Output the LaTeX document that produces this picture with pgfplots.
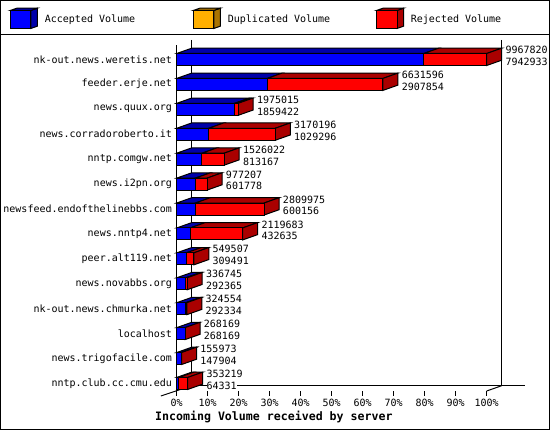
\documentclass[border=0pt]{standalone}
\usepackage{fontspec}
\setmainfont{DejaVu Sans Mono}
\usepackage{pgfplots}
\pgfplotsset{compat=1.18}
\definecolor{accfront}{RGB}{0,0,255}
\definecolor{accdark}{RGB}{0,0,170}
\definecolor{dupfront}{RGB}{255,175,0}
\definecolor{dupdark}{RGB}{170,115,0}
\definecolor{rejfront}{RGB}{255,0,0}
\definecolor{rejdark}{RGB}{170,0,0}

% depth of the 3d bars: 15 px across (in percent), 5.3 px up
\newcommand\dx{4.84}
\newcommand\dy{5.3}
% row index, total volume, accepted volume
\newcommand\volbar[3]{%
  \begingroup
  \pgfkeys{/pgf/fpu=true,/pgf/fpu/output format=fixed}%
  \pgfmathparse{#2/99678.20}\xdef\xt{\pgfmathresult}%
  \pgfmathparse{#3/99678.20}\xdef\xa{\pgfmathresult}%
  \pgfmathparse{\xt+\dx}\xdef\xtb{\pgfmathresult}%
  \pgfmathparse{\xa+\dx}\xdef\xab{\pgfmathresult}%
  \pgfmathparse{325.5-24.92*#1}\xdef\yb{\pgfmathresult}%
  \pgfmathparse{\yb+12}\xdef\yt{\pgfmathresult}%
  \pgfmathparse{\yt+\dy}\xdef\ytb{\pgfmathresult}%
  \pgfmathparse{\yb+\dy}\xdef\ybb{\pgfmathresult}%
  \endgroup
  \ifnum#2=#3\relax\def\sidecol{accdark}\else\def\sidecol{rejdark}\fi
  \addplot[barline,fill=accdark] coordinates {(0,\yt) (\xa,\yt) (\xab,\ytb) (\dx,\ytb)} --cycle;
  \ifnum#2=#3\relax\else
    \addplot[barline,fill=rejdark] coordinates {(\xa,\yt) (\xt,\yt) (\xtb,\ytb) (\xab,\ytb)} --cycle;
  \fi
  \addplot[barline,fill=\sidecol] coordinates {(\xt,\yb) (\xtb,\ybb) (\xtb,\ytb) (\xt,\yt)} --cycle;
  \addplot[barline,fill=accfront] coordinates {(0,\yb) (\xa,\yb) (\xa,\yt) (0,\yt)} --cycle;
  \ifnum#2=#3\relax\else
    \addplot[barline,fill=rejfront] coordinates {(\xa,\yb) (\xt,\yb) (\xt,\yt) (\xa,\yt)} --cycle;
  \fi
}
\newcommand\vollabel[3]{%
  \begingroup
  \pgfkeys{/pgf/fpu=true,/pgf/fpu/output format=fixed}%
  \pgfmathparse{#2/99678.20}\xdef\xt{\pgfmathresult}%
  \pgfmathparse{329.3-24.92*#1}\xdef\ylo{\pgfmathresult}%
  \pgfmathparse{341-24.92*#1}\xdef\yhi{\pgfmathresult}%
  \endgroup
  \edef\temp{\noexpand\node[vallab] at (axis cs:\xt,\yhi) {#2};
    \noexpand\node[vallab] at (axis cs:\xt,\ylo) {#3};}\temp
}
\newcommand\legbox[3]{%
  \fill[#3,draw=black,line width=1pt] (#1pt+20.5pt,-10.5pt) -- ++(6.5pt,2.3pt) -- ++(0,-18pt) -- ++(-6.5pt,-2.3pt) -- cycle;
  \fill[#3,draw=black,line width=1pt] (#1pt,-10.5pt) -- ++(6.5pt,2.3pt) -- ++(20.5pt,0) -- ++(-6.5pt,-2.3pt) -- cycle;
  \fill[#2,draw=black,line width=1pt] (#1pt,-10.5pt) rectangle ++(20.5pt,-18pt);
}

\begin{document}
\begin{tikzpicture}[x=1pt,y=1pt,barline/.style={draw=black,line width=1pt,line join=miter},
  vallab/.style={anchor=west,xshift=18.7pt,inner sep=0pt,fill=white,font=\fontsize{10}{10}\selectfont}]
\path[use as bounding box] (0,0) rectangle (550,-430);
\fill[white] (0,0) rectangle (550,-430);
\draw[black,line width=1pt] (.5,-.5) rectangle (549.5,-429.5);
\draw[black,line width=1pt] (0,-35) -- (550,-35);
% legend
\legbox{10.3}{accfront}{accdark}
\legbox{193.3}{dupfront}{dupdark}
\legbox{376.5}{rejfront}{rejdark}
\node[anchor=west,inner sep=0,font=\fontsize{10}{10}\selectfont] at (44.7,-20) {Accepted Volume};
\node[anchor=west,inner sep=0,font=\fontsize{10}{10}\selectfont] at (227.7,-20) {Duplicated Volume};
\node[anchor=west,inner sep=0,font=\fontsize{10}{10}\selectfont] at (410.7,-20) {Rejected Volume};
\begin{axis}[
  at={(176.7pt,-391pt)},anchor=south west,
  scale only axis,width=310pt,height=351pt,
  xmin=0,xmax=100,ymin=0,ymax=351,clip=false,
  axis line style={draw=none},
  tick align=outside,
  xtick={0,10,...,100},
  xtick pos=bottom,
  xticklabel={\pgfmathprintnumber{\tick}\%},
  /pgf/number format/assume math mode=true,
  xtick style={black,line width=1pt},
  major tick length=5pt,
  ytick pos=left,
  ytick style={draw=none},
  ytick={331.7,306.78,281.86,256.94,232.02,207.1,182.18,157.26,132.34,107.42,82.5,57.58,32.66,7.74},
  yticklabels={nk-out.news.weretis.net,feeder.erje.net,news.quux.org,news.corradoroberto.it,nntp.comgw.net,news.i2pn.org,newsfeed.endofthelinebbs.com,news.nntp4.net,peer.alt119.net,news.novabbs.org,nk-out.news.chmurka.net,localhost,news.trigofacile.com,nntp.club.cc.cmu.edu},
  ticklabel style={font=\fontsize{10}{10}\selectfont},
  yticklabel style={inner sep=0pt,xshift=0.5pt},
  xticklabel style={inner sep=0pt,anchor=center,yshift=-7pt},
  xlabel={Incoming Volume received by server},
  xlabel style={font=\fontsize{11.6}{11.6}\bfseries\selectfont,at={(axis description cs:0.3135,-0.0745)},anchor=center,inner sep=0pt},
]
% back walls and floor
\draw[black,line width=1pt] (axis cs:\dx,351) -- (axis cs:\dx,\dy) -- (axis cs:112.3,\dy);
\draw[black,line width=1pt] (axis cs:104.84,351) -- (axis cs:104.84,\dy);
\draw[black,line width=1pt] (axis cs:-5.1,-5) -- (axis cs:\dx,\dy);
\draw[black,line width=1pt] (axis cs:100,0) -- (axis cs:104.84,\dy);
\draw[black,line width=1pt] (axis cs:0,0) -- (axis cs:0,346);
\volbar{0}{9967820}{7942933}
\volbar{1}{6631596}{2907854}
\volbar{2}{1975015}{1859422}
\volbar{3}{3170196}{1029296}
\volbar{4}{1526022}{813167}
\volbar{5}{977207}{601778}
\volbar{6}{2809975}{600156}
\volbar{7}{2119683}{432635}
\volbar{8}{549507}{309491}
\volbar{9}{336745}{292365}
\volbar{10}{324554}{292334}
\volbar{11}{268169}{268169}
\volbar{12}{155973}{147904}
\volbar{13}{353219}{64331}
\vollabel{0}{9967820}{7942933}
\vollabel{1}{6631596}{2907854}
\vollabel{2}{1975015}{1859422}
\vollabel{3}{3170196}{1029296}
\vollabel{4}{1526022}{813167}
\vollabel{5}{977207}{601778}
\vollabel{6}{2809975}{600156}
\vollabel{7}{2119683}{432635}
\vollabel{8}{549507}{309491}
\vollabel{9}{336745}{292365}
\vollabel{10}{324554}{292334}
\vollabel{11}{268169}{268169}
\vollabel{12}{155973}{147904}
\vollabel{13}{353219}{64331}
\end{axis}
\end{tikzpicture}
\end{document}
